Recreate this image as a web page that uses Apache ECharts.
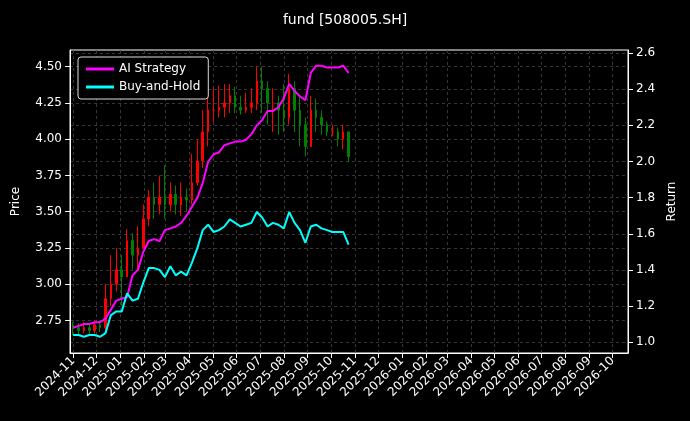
<!DOCTYPE html>
<html>
<head>
<meta charset="utf-8">
<script src="https://cdn.jsdelivr.net/npm/echarts@6/dist/echarts.min.js"></script>
<style>
  html, body { margin: 0; padding: 0; background: #000; }
  #chart { width: 690px; height: 421px; }
</style>
</head>
<body>
<div id="chart"></div>
<script>
// weekly points (Fridays)
const dates = [
  '2024-11-01', '2024-11-08', '2024-11-15', '2024-11-22', '2024-11-29', '2024-12-06', '2024-12-13',
  '2024-12-20', '2024-12-27', '2025-01-03', '2025-01-10', '2025-01-17', '2025-01-24', '2025-01-31',
  '2025-02-07', '2025-02-14', '2025-02-21', '2025-02-28', '2025-03-07', '2025-03-14', '2025-03-21',
  '2025-03-28', '2025-04-04', '2025-04-11', '2025-04-18', '2025-04-25', '2025-05-02', '2025-05-09',
  '2025-05-16', '2025-05-23', '2025-05-30', '2025-06-06', '2025-06-13', '2025-06-20', '2025-06-27',
  '2025-07-04', '2025-07-11', '2025-07-18', '2025-07-25', '2025-08-01', '2025-08-08', '2025-08-15',
  '2025-08-22', '2025-08-29', '2025-09-05', '2025-09-12', '2025-09-19', '2025-09-26', '2025-10-03',
  '2025-10-10', '2025-10-17', '2025-10-24',
];
// [open, close, low, high]
const ohlc = [
  [2.72, 2.70, 2.65, 2.74], [2.70, 2.68, 2.65, 2.73], [2.68, 2.70, 2.66, 2.74], [2.70, 2.68, 2.65, 2.72],
  [2.68, 2.72, 2.66, 2.75], [2.72, 2.70, 2.67, 2.75], [2.70, 2.90, 2.68, 3.00], [2.90, 3.00, 2.85, 3.20],
  [3.00, 3.10, 2.95, 3.25], [3.10, 3.05, 2.85, 3.20], [3.05, 3.30, 3.05, 3.38], [3.30, 3.20, 3.10, 3.35],
  [3.20, 3.25, 3.10, 3.40], [3.25, 3.45, 3.25, 3.55], [3.45, 3.60, 3.40, 3.65], [3.60, 3.55, 3.45, 3.70],
  [3.55, 3.60, 3.48, 3.75], [3.60, 3.55, 3.45, 3.82], [3.55, 3.62, 3.50, 3.70], [3.62, 3.55, 3.48, 3.68],
  [3.55, 3.60, 3.47, 3.70], [3.60, 3.58, 3.50, 3.66], [3.58, 3.70, 3.55, 3.90], [3.70, 3.85, 3.68, 4.00],
  [3.85, 4.05, 3.80, 4.20], [4.05, 4.20, 3.95, 4.30], [4.20, 4.20, 4.12, 4.35], [4.20, 4.22, 4.15, 4.37],
  [4.22, 4.25, 4.15, 4.38], [4.25, 4.30, 4.18, 4.38], [4.30, 4.22, 4.18, 4.36], [4.22, 4.20, 4.17, 4.30],
  [4.20, 4.22, 4.18, 4.32], [4.22, 4.25, 4.18, 4.35], [4.25, 4.40, 4.20, 4.50], [4.40, 4.35, 4.18, 4.50],
  [4.35, 4.25, 4.10, 4.40], [4.25, 4.25, 4.05, 4.35], [4.25, 4.20, 4.03, 4.30], [4.20, 4.15, 4.05, 4.38],
  [4.15, 4.35, 4.10, 4.45], [4.35, 4.20, 4.05, 4.40], [4.20, 4.10, 3.95, 4.30], [4.10, 3.95, 3.88, 4.15],
  [3.95, 4.20, 3.95, 4.30], [4.20, 4.15, 4.05, 4.28], [4.15, 4.10, 4.03, 4.20], [4.10, 4.05, 4.02, 4.12],
  [4.05, 4.05, 4.02, 4.10], [4.05, 4.00, 3.95, 4.08], [4.00, 4.05, 3.93, 4.10], [4.05, 3.88, 3.84, 4.05],
];
const aiReturn = [
  1.08, 1.09, 1.10, 1.10, 1.11, 1.11, 1.13, 1.18, 1.23, 1.24, 1.25, 1.37, 1.40, 1.50, 1.56, 1.57, 1.56,
  1.62, 1.63, 1.64, 1.66, 1.70, 1.75, 1.80, 1.88, 2.00, 2.04, 2.05, 2.09, 2.10, 2.11, 2.11, 2.12, 2.15,
  2.20, 2.23, 2.28, 2.28, 2.30, 2.35, 2.43, 2.39, 2.36, 2.34, 2.49, 2.53, 2.53, 2.52, 2.52, 2.52, 2.53, 2.49,
];
const holdReturn = [
  1.04, 1.04, 1.03, 1.04, 1.04, 1.03, 1.05, 1.15, 1.17, 1.17, 1.27, 1.23, 1.24, 1.33, 1.41, 1.41, 1.40,
  1.36, 1.42, 1.37, 1.39, 1.37, 1.44, 1.52, 1.62, 1.65, 1.61, 1.62, 1.64, 1.68, 1.66, 1.64, 1.65, 1.66,
  1.72, 1.69, 1.64, 1.66, 1.65, 1.63, 1.72, 1.66, 1.62, 1.55, 1.64, 1.65, 1.63, 1.62, 1.61, 1.61, 1.61, 1.54,
];
const monthTicks = [
  '2024-11', '2024-12', '2025-01', '2025-02', '2025-03', '2025-04', '2025-05', '2025-06', '2025-07',
  '2025-08', '2025-09', '2025-10', '2025-11', '2025-12', '2026-01', '2026-02', '2026-03', '2026-04',
  '2026-05', '2026-06', '2026-07', '2026-08', '2026-09', '2026-10',
];
const priceTicks = [2.75, 3.00, 3.25, 3.50, 3.75, 4.00, 4.25, 4.50];
const returnTicks = [1.0, 1.2, 1.4, 1.6, 1.8, 2.0, 2.2, 2.4, 2.6];

const ts = d => new Date(d + 'T00:00:00Z').getTime();
const monthTs = monthTicks.map(m => ts(m + '-01'));
const gridLine = { show: true, lineStyle: { color: '#444', type: [3, 3], width: 0.8 } };
const font = 'DejaVu Sans';

const chart = echarts.init(document.getElementById('chart'));
chart.setOption({
  backgroundColor: '#000',
  animation: false,
  textStyle: { fontFamily: font },
  title: {
    text: 'fund [508005.SH]', left: 'center', top: 8,
    textStyle: { color: '#fff', fontSize: 14, fontWeight: 'normal', fontFamily: font },
  },
  legend: {
    left: 78, top: 57, orient: 'vertical', itemGap: 6, itemWidth: 28, itemHeight: 3,
    padding: [6, 8], borderColor: '#ddd', borderWidth: 1, borderRadius: 3, backgroundColor: '#000',
    textStyle: { color: '#fff', fontSize: 12, fontFamily: font },
    data: [
      { name: 'AI Strategy', icon: 'rect' },
      { name: 'Buy-and-Hold', icon: 'rect' },
    ],
  },
  grid: { left: 70, right: 62, top: 50, bottom: 68, show: true, borderColor: '#fff', borderWidth: 1 },
  xAxis: {
    type: 'value', min: ts('2024-10-28'), max: ts('2026-10-21'),
    axisLine: { lineStyle: { color: '#fff' } },
    axisTick: { customValues: monthTs, lineStyle: { color: '#fff' } },
    axisLabel: {
      customValues: monthTs, rotate: 45, color: '#fff', fontSize: 12, margin: 6,
      formatter: v => { const d = new Date(v); return d.getUTCFullYear() + '-' + String(d.getUTCMonth() + 1).padStart(2, '0'); },
    },
    splitLine: gridLine,
  },
  yAxis: [
    {
      type: 'value', min: 2.525, max: 4.615, name: 'Price', nameLocation: 'middle', nameGap: 48,
      nameTextStyle: { color: '#fff', fontSize: 12 },
      axisLine: { show: true, lineStyle: { color: '#fff' } },
      axisTick: { show: true, customValues: priceTicks, lineStyle: { color: '#fff' } },
      axisLabel: { customValues: priceTicks, color: '#fff', fontSize: 12, formatter: v => v.toFixed(2) },
      splitLine: gridLine,
    },
    {
      type: 'value', min: 0.94, max: 2.617, name: 'Return', nameLocation: 'middle', nameGap: 36,
      nameRotate: 90, nameTextStyle: { color: '#fff', fontSize: 12 },
      axisLine: { show: true, lineStyle: { color: '#fff' } },
      axisTick: { show: true, customValues: returnTicks, lineStyle: { color: '#fff' } },
      axisLabel: { customValues: returnTicks, color: '#fff', fontSize: 12, formatter: v => v.toFixed(1) },
      splitLine: gridLine,
    },
  ],
  series: [
    {
      type: 'candlestick', yAxisIndex: 0, barWidth: 2,
      itemStyle: { color: '#ff0000', color0: '#008000', borderColor: '#ff0000', borderColor0: '#008000' },
      data: dates.map((d, i) => [ts(d)].concat(ohlc[i])),
    },
    {
      name: 'AI Strategy', type: 'line', yAxisIndex: 1, symbol: 'none',
      lineStyle: { color: '#ff00ff', width: 2 }, itemStyle: { color: '#ff00ff' },
      data: dates.map((d, i) => [ts(d), aiReturn[i]]),
    },
    {
      name: 'Buy-and-Hold', type: 'line', yAxisIndex: 1, symbol: 'none',
      lineStyle: { color: '#00ffff', width: 2 }, itemStyle: { color: '#00ffff' },
      data: dates.map((d, i) => [ts(d), holdReturn[i]]),
    },
  ],
});
</script>
</body>
</html>
